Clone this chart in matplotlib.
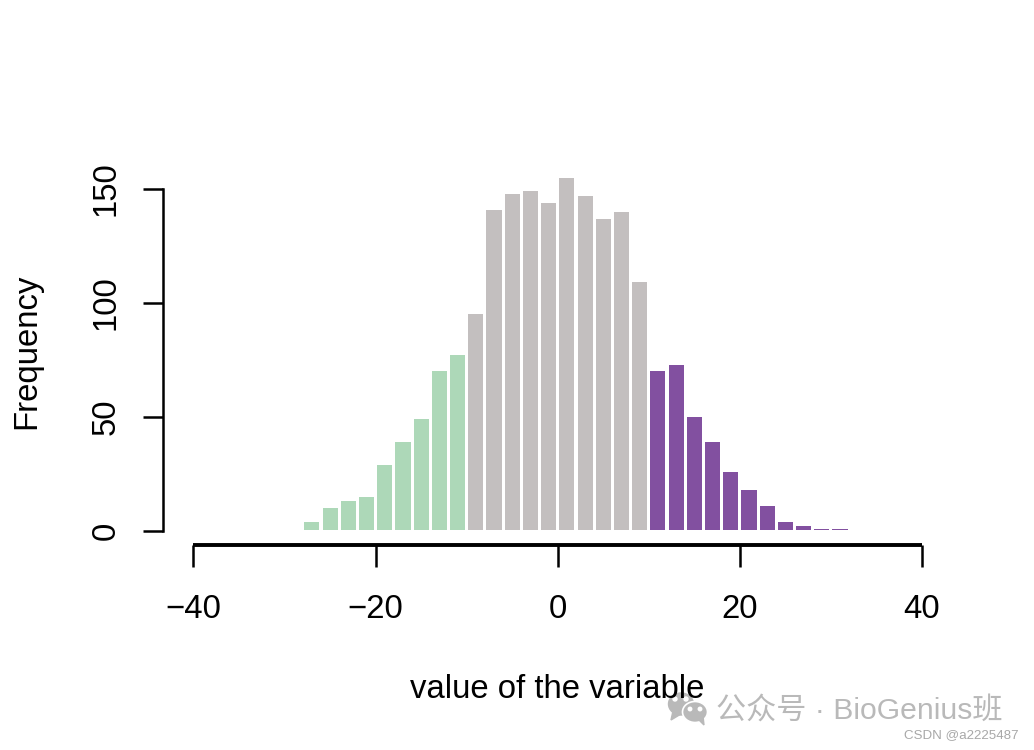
import numpy as np
import matplotlib
matplotlib.use('Agg')
import matplotlib.pyplot as plt
from matplotlib.patches import Ellipse, Polygon

plt.rcParams['font.family'] = ['Liberation Sans', 'Noto Sans CJK SC', 'DejaVu Sans']

# bin edges of the histogram and counts per bin
bin_mid = list(range(-27, 33, 2))
counts_low = [4, 10, 13, 15, 29, 39, 49, 70, 77]
counts_mid = [95, 141, 148, 149, 144, 155, 147, 137, 140, 109]
counts_high = [70, 73, 50, 39, 26, 18, 11, 4, 2, 1, 1]
counts = counts_low + counts_mid + counts_high
colors = (['#ADD8B8'] * len(counts_low)
          + ['#C3BFBF'] * len(counts_mid)
          + ['#8250A0'] * len(counts_high))

x_ticks = [-40, -20, 0, 20, 40]
y_ticks = [0, 50, 100, 150]

W, H = 1034, 750
fig = plt.figure(figsize=(W / 100, H / 100), dpi=100)
ax = fig.add_axes([193.5 / W, 1 - 531 / H, (922 - 193.5) / W, (531 - 189) / H])

# white bar borders in the original eat the bottom of each bar a little
base = 0.5
ax.bar(bin_mid, np.array(counts) - base, bottom=base, width=1.66, color=colors,
       linewidth=0, clip_on=False)

ax.set_xlim(-40, 40)
ax.set_ylim(0, 150)
ax.set_xticks(x_ticks)
ax.set_yticks(y_ticks)

ax.spines['top'].set_visible(False)
ax.spines['right'].set_visible(False)
ax.spines['bottom'].set_position(('outward', 10))
ax.spines['left'].set_position(('outward', 22))
ax.spines['bottom'].set_bounds(-40, 40)
ax.spines['left'].set_bounds(0, 150)
ax.spines['bottom'].set_linewidth(2.8)
ax.spines['left'].set_linewidth(1.8)
ax.spines['bottom'].set_capstyle('butt')
ax.tick_params(axis='x', length=16, width=1.8, labelsize=23.7, pad=19)
ax.tick_params(axis='y', length=14.5, width=1.8, labelsize=23.7, pad=15.5,
               labelrotation=90)
for lab in ax.get_yticklabels():
    lab.set_va('center')

fig.text(557 / W, 1 - 690 / H, 'value of the variable', fontsize=23.7,
         ha='center', va='center')
fig.text(27 / W, 1 - 351 / H, 'Frequency', fontsize=23.7, rotation=90,
         ha='center', va='center')

# watermark
fig.text(716 / W, 1 - 711 / H, '公众号 · BioGenius班', fontsize=21.7,
         color='#b9b9b9', ha='left', va='center')
fig.text(1019 / W, 1 - 735 / H, 'CSDN @a2225487', fontsize=9.6,
         color='#a8a8a8', ha='right', va='center')

bg = fig.add_axes([0, 0, 1, 1], facecolor='none')
bg.set_xlim(0, W)
bg.set_ylim(H, 0)
bg.axis('off')
grey = '#b9b9b9'
bg.add_patch(Ellipse((681, 704), 25, 22, color=grey))
bg.add_patch(Polygon([(673, 711), (671, 720), (681, 714)], color=grey))
bg.add_patch(Ellipse((695, 712), 25, 21, fc=grey, ec='white', lw=1.2))
bg.add_patch(Polygon([(699, 720), (704, 725), (703, 716)], color=grey))
for dx, dy, r in [(675, 699, 4), (686, 699, 4), (690, 709, 3.5), (700, 709, 3.5)]:
    bg.add_patch(Ellipse((dx, dy), r, r, color='white'))

fig.savefig('out.png', dpi=100)
